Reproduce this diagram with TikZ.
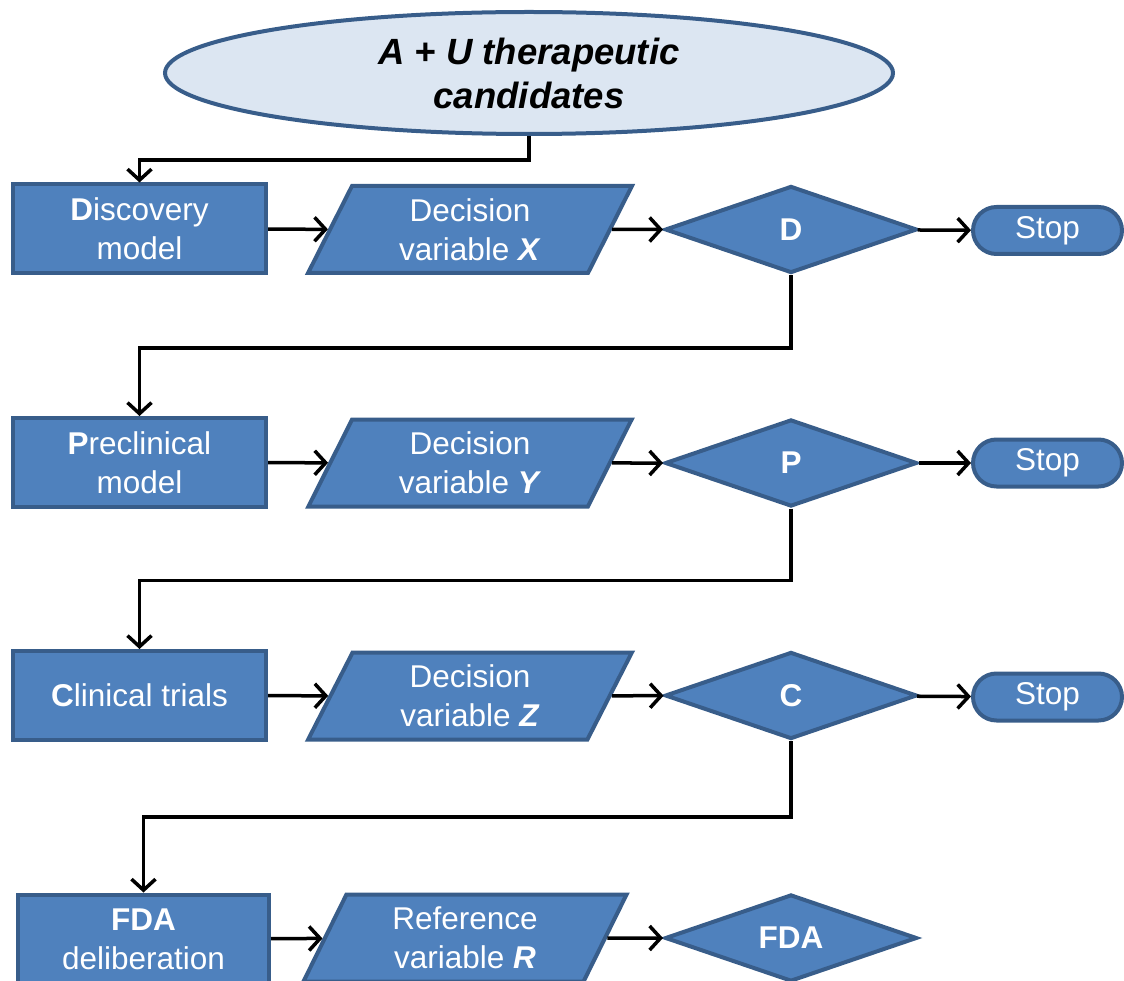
\documentclass[tikz,border=0pt]{standalone}
\usepackage{fontspec}
\setmainfont{Liberation Sans}
\usetikzlibrary{shapes.geometric,shapes.misc,arrows.meta}
\definecolor{boxfill}{HTML}{4F81BD}
\definecolor{boxline}{HTML}{385D8A}
\definecolor{ellfill}{HTML}{DCE6F2}
\tikzset{
  base/.style={draw=boxline, line width=4pt, fill=boxfill, text=white, align=center,
    font=\fontsize{31.5}{39}\selectfont, inner sep=0pt},
  procbox/.style={base, rectangle, minimum width=253pt, minimum height=89pt},
  parabox/.style={base, trapezium, trapezium left angle=67, trapezium right angle=113,
    trapezium stretches=true, minimum width=324pt, minimum height=87pt},
  decbox/.style={base, diamond, minimum width=252pt, minimum height=87pt},
  stopbox/.style={base, rounded rectangle, minimum width=149pt, minimum height=47pt},
  conn/.style={draw=black, line width=3.5pt, -{Straight Barb[length=11pt,width=24pt]}},
}
\begin{document}
\begin{tikzpicture}[x=1pt,y=-1pt]
\useasboundingbox (0,0) rectangle (1124,981);
\clip (0,0) rectangle (1124,981);
\node[draw=boxline, line width=4pt, fill=ellfill, ellipse, minimum width=728pt, minimum height=122pt,
  align=center, font=\fontsize{36.5}{44}\selectfont\bfseries\itshape, inner sep=0pt]
  (top) at (529,73) {A + U therapeutic\\candidates};

% row 1
\node[procbox] (r1) at (139.5,229) {\textbf{D}iscovery\\model};
\node[parabox] (p1) at (470,229.5) {Decision\\variable \textbf{\textit{X}}};
\node[decbox] (d1) at (791,229.5) {\textbf{D}};
\node[stopbox] (s1) at (1047.5,230.5) {Stop};
% row 2
\node[procbox] (r2) at (139.5,462.5) {\textbf{P}reclinical\\model};
\node[parabox] (p2) at (470,463) {Decision\\variable \textbf{\textit{Y}}};
\node[decbox] (d2) at (791,463) {\textbf{P}};
\node[stopbox] (s2) at (1047.5,463) {Stop};
% row 3
\node[procbox] (r3) at (139.5,695.5) {\textbf{C}linical trials};
\node[parabox] (p3) at (470,696) {Decision\\variable \textbf{\textit{Z}}};
\node[decbox] (d3) at (791,695.5) {\textbf{C}};
\node[stopbox] (s3) at (1047.5,697) {Stop};
% row 4
\node[procbox, minimum width=251pt] (r4) at (143.5,939) {\textbf{FDA}\\deliberation};
\node[parabox] (p4) at (465,938) {Reference\\variable \textbf{\textit{R}}};
\node[decbox] (d4) at (791,938) {\textbf{FDA}};

% connectors
\draw[conn] (top.south) -- ++(0,24) -| (r1.north);
\draw[conn] (r1) -- (p1);
\draw[conn] (p1) -- (d1);
\draw[conn] (d1) -- (s1);
\draw[conn] (d1.south) -- ++(0,73) -| (r2.north);
\draw[conn] (r2) -- (p2);
\draw[conn] (p2) -- (d2);
\draw[conn] (d2) -- (s2);
\draw[conn] (d2.south) -- ++(0,72) -| (r3.north);
\draw[conn] (r3) -- (p3);
\draw[conn] (p3) -- (d3);
\draw[conn] (d3) -- (s3);
\draw[conn] (d3.south) -- ++(0,76) -| (r4.north);
\draw[conn] (r4) -- (p4);
\draw[conn] (p4) -- (d4);
\end{tikzpicture}
\end{document}
